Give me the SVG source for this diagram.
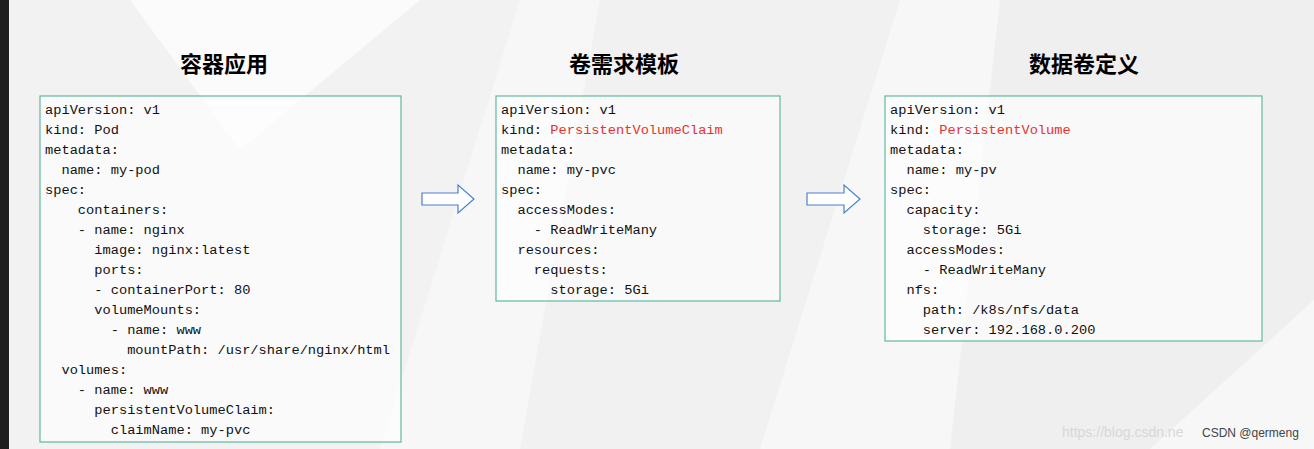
<svg xmlns="http://www.w3.org/2000/svg" width="1314" height="449" viewBox="0 0 1314 449">
<style>
.box{fill:#ffffff;fill-opacity:0.6;stroke:#5fb8a0;stroke-width:1.2}
.code{font-family:"Liberation Mono","Noto Sans CJK SC",monospace;font-size:13.7px;fill:#111;white-space:pre}
.red{fill:#e8322e}
.title{font-family:"Noto Sans CJK SC",sans-serif;font-size:22px;font-weight:bold;fill:#000;text-anchor:middle}
.arrow{fill:#fff;stroke:#4a7fd0;stroke-width:1.2}
</style>
<rect width="1314" height="449" fill="#f7f7f7"/>
<polygon points="0,0 520,0 380,449 0,449" fill="#f2f2f2"/>
<polygon points="600,0 900,0 760,449 520,449" fill="#ececec" opacity="0.6"/>
<polygon points="1000,0 1314,0 1314,300 1150,449 950,449" fill="#efefef"/>
<polygon points="130,0 420,0 240,150" fill="#fbfbfb"/>
<rect x="0" y="0" width="9" height="449" fill="#1e1e1e"/>
<text class="title" x="224" y="72">容器应用</text>
<text class="title" x="624" y="72">卷需求模板</text>
<text class="title" x="1084" y="72">数据卷定义</text>
<g id="pod">
<rect class="box" x="40" y="96" width="361" height="346"/>
<text class="code" x="45" y="114" xml:space="preserve"><tspan x="45">apiVersion: v1</tspan><tspan x="45" dy="20">kind: Pod</tspan><tspan x="45" dy="20">metadata:</tspan><tspan x="45" dy="20">  name: my-pod</tspan><tspan x="45" dy="20">spec:</tspan><tspan x="45" dy="20">    containers:</tspan><tspan x="45" dy="20">    - name: nginx</tspan><tspan x="45" dy="20">      image: nginx:latest</tspan><tspan x="45" dy="20">      ports:</tspan><tspan x="45" dy="20">      - containerPort: 80</tspan><tspan x="45" dy="20">      volumeMounts:</tspan><tspan x="45" dy="20">        - name: www</tspan><tspan x="45" dy="20">          mountPath: /usr/share/nginx/html</tspan><tspan x="45" dy="20">  volumes:</tspan><tspan x="45" dy="20">    - name: www</tspan><tspan x="45" dy="20">      persistentVolumeClaim:</tspan><tspan x="45" dy="20">        claimName: my-pvc</tspan></text>
</g>
<g id="pvc">
<rect class="box" x="496" y="96" width="284" height="205"/>
<text class="code" x="501" y="114" xml:space="preserve"><tspan x="501">apiVersion: v1</tspan><tspan x="501" dy="20">kind: <tspan class="red">PersistentVolumeClaim</tspan></tspan><tspan x="501" dy="20">metadata:</tspan><tspan x="501" dy="20">  name: my-pvc</tspan><tspan x="501" dy="20">spec:</tspan><tspan x="501" dy="20">  accessModes:</tspan><tspan x="501" dy="20">    - ReadWriteMany</tspan><tspan x="501" dy="20">  resources:</tspan><tspan x="501" dy="20">    requests:</tspan><tspan x="501" dy="20">      storage: 5Gi</tspan></text>
</g>
<g id="pv">
<rect class="box" x="885" y="96" width="377" height="245"/>
<text class="code" x="890" y="114" xml:space="preserve"><tspan x="890">apiVersion: v1</tspan><tspan x="890" dy="20">kind: <tspan class="red">PersistentVolume</tspan></tspan><tspan x="890" dy="20">metadata:</tspan><tspan x="890" dy="20">  name: my-pv</tspan><tspan x="890" dy="20">spec:</tspan><tspan x="890" dy="20">  capacity:</tspan><tspan x="890" dy="20">    storage: 5Gi</tspan><tspan x="890" dy="20">  accessModes:</tspan><tspan x="890" dy="20">    - ReadWriteMany</tspan><tspan x="890" dy="20">  nfs:</tspan><tspan x="890" dy="20">    path: /k8s/nfs/data</tspan><tspan x="890" dy="20">    server: 192.168.0.200</tspan></text>
</g>
<g id="connectors">
<polygon class="arrow" points="422,193 458,193 458,185 474,199 458,213 458,205 422,205"/>
<polygon class="arrow" points="807,193 844,193 844,185 860,199 844,213 844,205 807,205"/>
</g>
<text x="1062" y="437" font-family="Liberation Sans,sans-serif" font-size="14" fill="#d8d8d8">https://blog.csdn.ne</text>
<text x="1202" y="437" font-family="Liberation Sans,sans-serif" font-size="12" fill="#444">CSDN @qermeng</text>
</svg>
